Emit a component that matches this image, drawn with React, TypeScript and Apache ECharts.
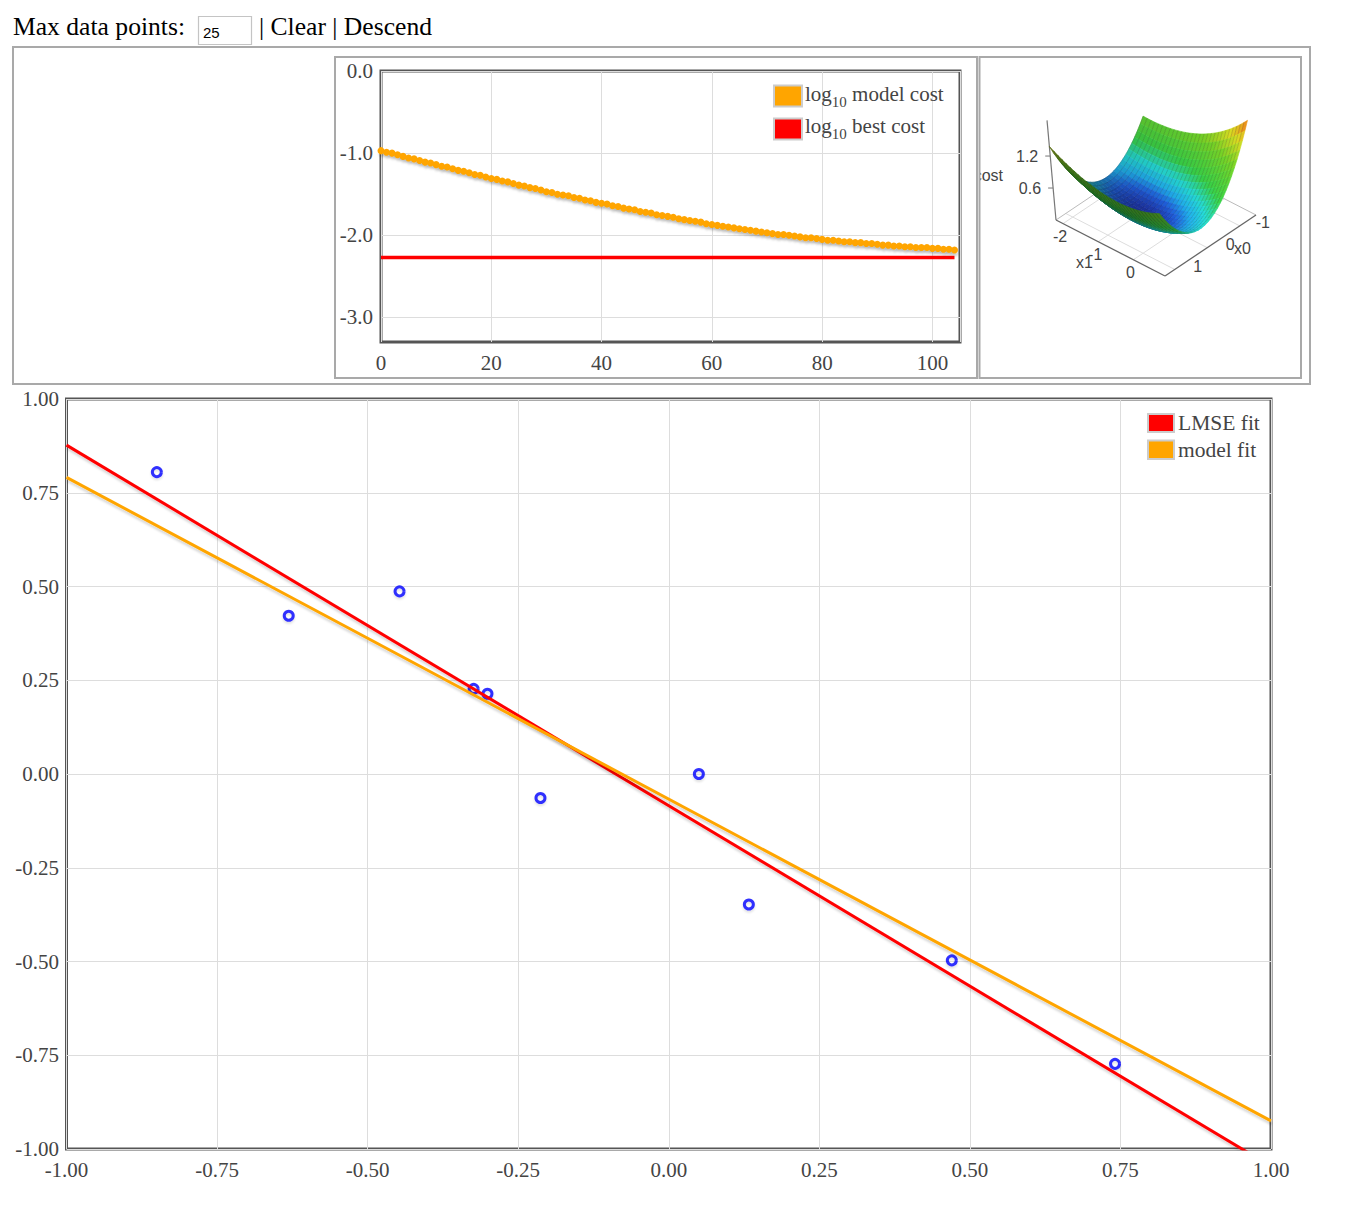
import React, { useEffect, useRef } from "react";
import * as echarts from "echarts";

const SERIF = "'Liberation Serif', 'Times New Roman', Times, serif";
const SANS = "'Liberation Sans', Arial, Helvetica, sans-serif";

// ---------------- header ----------------
const headerLabel = "Max data points:";
const maxPointsValue = "25";
const headerLinks = "| Clear | Descend";

// ---------------- cost history (top chart) ----------------
const modelCostLog10 = [
  -0.97, -0.99, -1.0, -1.02, -1.04, -1.06, -1.07, -1.09, -1.11, -1.12,
  -1.14, -1.16, -1.17, -1.19, -1.21, -1.22, -1.24, -1.26, -1.27, -1.29,
  -1.31, -1.32, -1.34, -1.35, -1.37, -1.39, -1.4, -1.42, -1.43, -1.45,
  -1.47, -1.48, -1.5, -1.51, -1.52, -1.54, -1.55, -1.57, -1.58, -1.6,
  -1.61, -1.62, -1.64, -1.65, -1.67, -1.68, -1.69, -1.71, -1.72, -1.73,
  -1.75, -1.76, -1.77, -1.78, -1.8, -1.81, -1.82, -1.83, -1.84, -1.86,
  -1.87, -1.88, -1.89, -1.9, -1.91, -1.92, -1.93, -1.94, -1.95, -1.96,
  -1.97, -1.98, -1.99, -1.99, -2.0, -2.01, -2.02, -2.03, -2.03, -2.04,
  -2.05, -2.06, -2.06, -2.07, -2.08, -2.08, -2.09, -2.09, -2.1, -2.1,
  -2.11, -2.12, -2.12, -2.13, -2.13, -2.14, -2.14, -2.15, -2.15, -2.15,
  -2.16, -2.16, -2.17, -2.17, -2.18,
];
const bestCostIterations = [0, 104];
const bestCostLog10 = [-2.27, -2.27];
const costYTicks = [-3, -2, -1, 0];
const costLegend = ["model cost", "best cost"];

// ---------------- data points and fits (main chart) ----------------
const pointsX = [-0.85, -0.631, -0.447, -0.324, -0.301, -0.213, 0.05, 0.133, 0.47, 0.741];
const pointsY = [0.805, 0.422, 0.487, 0.227, 0.214, -0.064, 0.0, -0.348, -0.497, -0.773];
const modelIntercept = -0.067;
const modelSlope = -0.858;
const fitXExtent = [-1, 1];
const fitLegend = ["LMSE fit", "model fit"];

// ---------------- cost surface (3D panel) ----------------
const surfX0Range = [-1.5, 1.3];
const surfX1Range = [-2.2, 0.9];
const surfX0Ticks = [-1, 0, 1];
const surfX1Ticks = [-2, -1, 0];
const surfCostTicks = [0.6, 1.2];
const SURF_N = 28;

// view of the 3D panel (panel-local units)
const VIEW = { origin: [77, 164], eu: [109, 56], ev: [91, -61], ez: [-4.8, -53.3], persp: 0.15 };

const ORANGE = "#FFA500";
const RED = "#FF0000";
const lineShadow = {
  shadowColor: "rgba(0,0,0,0.16)",
  shadowBlur: 2,
  shadowOffsetX: 1,
  shadowOffsetY: 3,
};

function leastSquares(xs: number[], ys: number[]) {
  const n = xs.length;
  let mx = 0, my = 0;
  for (let i = 0; i < n; i++) { mx += xs[i]; my += ys[i]; }
  mx /= n; my /= n;
  let sxy = 0, sxx = 0;
  for (let i = 0; i < n; i++) {
    sxy += (xs[i] - mx) * (ys[i] - my);
    sxx += (xs[i] - mx) * (xs[i] - mx);
  }
  const slope = sxy / sxx;
  return { intercept: my - slope * mx, slope };
}

function halfMse(x0: number, x1: number) {
  let s = 0;
  for (let i = 0; i < pointsX.length; i++) {
    const r = x0 + x1 * pointsX[i] - pointsY[i];
    s += r * r;
  }
  return (0.5 * s) / pointsX.length;
}

const colorStops: [number, number[]][] = [
  [0, [28, 50, 160]],
  [0.05, [30, 90, 210]],
  [0.11, [30, 165, 225]],
  [0.2, [35, 210, 205]],
  [0.33, [55, 205, 70]],
  [0.6, [120, 215, 40]],
  [0.8, [225, 228, 35]],
  [0.93, [245, 160, 30]],
  [1, [235, 80, 25]],
];
function colorAt(t: number) {
  t = Math.max(0, Math.min(1, t));
  for (let k = 1; k < colorStops.length; k++) {
    if (t <= colorStops[k][0]) {
      const [t0, c0] = colorStops[k - 1];
      const [t1, c1] = colorStops[k];
      const f = (t - t0) / (t1 - t0);
      return [0, 1, 2].map((m) => c0[m] + (c1[m] - c0[m]) * f);
    }
  }
  return colorStops[colorStops.length - 1][1];
}

function project(u: number, v: number, c: number) {
  const s = 1 + VIEW.persp * (u - v);
  return [
    VIEW.origin[0] + VIEW.eu[0] * u + VIEW.ev[0] * v + VIEW.ez[0] * c * s,
    VIEW.origin[1] + VIEW.eu[1] * u + VIEW.ev[1] * v + VIEW.ez[1] * c * s,
  ];
}

function buildOption() {
  const lmse = leastSquares(pointsX, pointsY);

  // surface grid
  const x0Span = surfX0Range[1] - surfX0Range[0];
  const x1Span = surfX1Range[1] - surfX1Range[0];
  const x1At = (u: number) => surfX1Range[0] + u * x1Span;
  const x0At = (v: number) => surfX0Range[1] - v * x0Span;
  const G: number[][] = [];
  let cMin = Infinity, cMax = -Infinity;
  for (let i = 0; i <= SURF_N; i++) {
    const row: number[] = [];
    for (let j = 0; j <= SURF_N; j++) {
      const c = halfMse(x0At(j / SURF_N), x1At(i / SURF_N));
      row.push(c);
      cMin = Math.min(cMin, c);
      cMax = Math.max(cMax, c);
    }
    G.push(row);
  }
  const quads: number[][] = [];
  for (let i = 0; i < SURF_N; i++)
    for (let j = 0; j < SURF_N; j++)
      quads.push([i, j, VIEW.eu[1] * (i + 0.5) / SURF_N + VIEW.ev[1] * (j + 0.5) / SURF_N]);
  quads.sort((a, b) => a[2] - b[2]);

  const light = [-0.6, -0.6, 1];
  const ll = Math.hypot(light[0], light[1], light[2]);

  const axisFont = { color: "#444", fontFamily: SERIF, fontSize: 21 };

  const legendText = (sub: string, rest: string, x: number, y: number) => ({
    type: "text",
    z: 20,
    style: {
      text: `{a|${sub}}{s|10}{a| ${rest}}`,
      x,
      y,
      align: "left",
      verticalAlign: "middle",
      rich: {
        a: { fontSize: 21, fontFamily: SERIF, fill: "#444", lineHeight: 30, verticalAlign: "middle" },
        s: { fontSize: 15, fontFamily: SERIF, fill: "#444", lineHeight: 15, verticalAlign: "bottom" },
      },
    },
  });

  const swatch = (x: number, y: number, w: number, h: number, fill: string) => ({
    type: "rect",
    z: 20,
    shape: { x, y, width: w, height: h },
    style: { fill, stroke: "#ccc", lineWidth: 2 },
  });

  const plainText = (text: string, x: number, y: number, size: number, family: string, fill = "#000") => ({
    type: "text",
    z: 20,
    style: { text, x, y, fill, fontSize: size, fontFamily: family, align: "left", verticalAlign: "middle" },
  });

  const box = (x: number, y: number, w: number, h: number) => ({
    type: "rect",
    z: 60,
    shape: { x, y, width: w, height: h },
    style: { fill: "none", stroke: "#a9a9a9", lineWidth: 2 },
  });

  return {
    animation: false,
    textStyle: { fontFamily: SERIF },
    grid: [
      { left: 381, top: 71, width: 579, height: 271, show: true, borderColor: "#555", borderWidth: 3, backgroundColor: "transparent", outerBoundsMode: "none" },
      { left: 66.5, top: 399, width: 1204.5, height: 750, show: true, borderColor: "#555", borderWidth: 3, backgroundColor: "transparent", outerBoundsMode: "none" },
      { left: 979, top: 56, width: 322, height: 322, show: false, outerBoundsMode: "none" },
    ],
    xAxis: [
      {
        gridIndex: 0, type: "value", min: 0, max: 105, interval: 20,
        axisLine: { show: false }, axisTick: { show: false },
        axisLabel: { ...axisFont, margin: 10, showMaxLabel: false, showMinLabel: true },
        splitLine: { show: true, lineStyle: { color: "#ddd", width: 1 } },
      },
      {
        gridIndex: 1, type: "value", min: -1, max: 1, interval: 0.25,
        axisLine: { show: false }, axisTick: { show: false },
        axisLabel: { ...axisFont, margin: 10, formatter: (v: number) => v.toFixed(2), showMaxLabel: true, showMinLabel: true },
        splitLine: { show: true, lineStyle: { color: "#ddd", width: 1 } },
      },
      { gridIndex: 2, type: "value", min: 0, max: 322, show: false },
    ],
    yAxis: [
      {
        gridIndex: 0, type: "value", min: -3.3, max: 0,
        axisLine: { show: false },
        axisTick: { show: false, customValues: costYTicks },
        axisLabel: { ...axisFont, margin: 8, customValues: costYTicks, formatter: (v: number) => v.toFixed(1) },
        splitLine: { show: true, lineStyle: { color: "#ddd", width: 1 } },
      },
      {
        gridIndex: 1, type: "value", min: -1, max: 1, interval: 0.25,
        axisLine: { show: false }, axisTick: { show: false },
        axisLabel: { ...axisFont, margin: 7.5, formatter: (v: number) => v.toFixed(2), showMaxLabel: true, showMinLabel: true },
        splitLine: { show: true, lineStyle: { color: "#ddd", width: 1 } },
      },
      { gridIndex: 2, type: "value", min: 0, max: 322, inverse: true, show: false },
    ],
    series: [
      // ---- top chart
      {
        type: "line", xAxisIndex: 0, yAxisIndex: 0, silent: true,
        data: bestCostIterations.map((x, k) => [x, bestCostLog10[k]]),
        showSymbol: false,
        lineStyle: { color: RED, width: 3.5 },
      },
      {
        type: "line", xAxisIndex: 0, yAxisIndex: 0, silent: true,
        data: modelCostLog10.map((v, k) => [k, v]),
        symbol: "circle", symbolSize: 7, showSymbol: true,
        itemStyle: { color: ORANGE, shadowColor: "rgba(0,0,0,0.14)", shadowBlur: 2, shadowOffsetX: 1, shadowOffsetY: 3 },
        lineStyle: { color: ORANGE, width: 3, ...lineShadow },
      },
      // ---- main chart
      {
        type: "line", xAxisIndex: 1, yAxisIndex: 1, silent: true, clip: true,
        data: fitXExtent.map((x) => [x, lmse.intercept + lmse.slope * x]),
        showSymbol: false,
        lineStyle: { color: RED, width: 3, ...lineShadow },
      },
      {
        type: "line", xAxisIndex: 1, yAxisIndex: 1, silent: true, clip: true,
        data: fitXExtent.map((x) => [x, modelIntercept + modelSlope * x]),
        showSymbol: false,
        lineStyle: { color: ORANGE, width: 3, ...lineShadow },
      },
      {
        type: "scatter", xAxisIndex: 1, yAxisIndex: 1, silent: true,
        data: pointsX.map((x, k) => [x, pointsY[k]]),
        symbol: "circle", symbolSize: 9,
        itemStyle: { color: "rgba(255,255,255,0)", borderColor: "#0000FF", borderWidth: 3, shadowColor: "rgba(0,0,0,0.15)", shadowBlur: 2, shadowOffsetY: 2 },
      },
      // ---- 3D floor / axes
      {
        type: "custom", xAxisIndex: 2, yAxisIndex: 2, silent: true, clip: false, z: 2,
        data: [[0, 0]],
        renderItem: (params: any, api: any) => {
          const P = (u: number, v: number, c: number) => api.coord(project(u, v, c));
          const children: any[] = [];
          const line = (a: number[], b: number[], stroke: string, w: number) =>
            children.push({ type: "line", shape: { x1: a[0], y1: a[1], x2: b[0], y2: b[1] }, style: { stroke, lineWidth: w } });
          const label = (t: string, p: number[], dx: number, dy: number, align: string) =>
            children.push({
              type: "text",
              style: { text: t, x: p[0] + dx, y: p[1] + dy, fill: "#444", fontSize: 16, fontFamily: SANS, align, textAlign: align, verticalAlign: "middle", textVerticalAlign: "middle" },
            });
          surfX1Ticks.forEach((t) => {
            const u = (t - surfX1Range[0]) / x1Span;
            line(P(u, 0, 0), P(u, 1, 0), "#ddd", 1);
          });
          surfX0Ticks.forEach((t) => {
            const v = (surfX0Range[1] - t) / x0Span;
            line(P(0, v, 0), P(1, v, 0), "#ddd", 1);
          });
          line(P(0, 0, 0), P(0, 1, 0), "#bbb", 1);
          line(P(0, 1, 0), P(1, 1, 0), "#bbb", 1);
          line(P(0, 0, 0), P(1, 0, 0), "#666", 1.3);
          line(P(1, 0, 0), P(1, 1, 0), "#666", 1.3);
          line(P(0, 0, 0), P(0, 0, 1.87), "#777", 1.2);
          surfCostTicks.forEach((c) => {
            const p = P(0, 0, c);
            line([p[0] - 5, p[1]], p, "#777", 1);
            label(c.toFixed(1), p, -12, 0, "right");
          });
          surfX1Ticks.forEach((t) => {
            const u = (t - surfX1Range[0]) / x1Span;
            label(String(t), P(u, 0, 0), -3, 13, "center");
          });
          surfX0Ticks.forEach((t) => {
            const v = (surfX0Range[1] - t) / x0Span;
            label(String(t), P(1, v, 0), 23, -3, "center");
          });
          label("x1", P(0.5, 0, 0), -26, 14, "center");
          label("x0", P(1, 0.5, 0), 32, 3, "center");
          label("cost", P(0, 0, 0.9), -78, 3, "left");
          return { type: "group", children };
        },
      },
      // ---- 3D surface
      {
        type: "custom", xAxisIndex: 2, yAxisIndex: 2, silent: true, clip: false, z: 3,
        data: quads.map((q) => [q[0], q[1]]),
        renderItem: (params: any, api: any) => {
          const i = api.value(0);
          const j = api.value(1);
          const c00 = G[i][j], c10 = G[i + 1][j], c11 = G[i + 1][j + 1], c01 = G[i][j + 1];
          const P = (ii: number, jj: number, c: number) => api.coord(project(ii / SURF_N, jj / SURF_N, c));
          const pts = [P(i, j, c00), P(i + 1, j, c10), P(i + 1, j + 1, c11), P(i, j + 1, c01)];
          const cAvg = (c00 + c10 + c11 + c01) / 4;
          const dhdu = (((c10 + c11) - (c00 + c01)) / 2) * SURF_N / cMax;
          const dhdv = (((c01 + c11) - (c00 + c10)) / 2) * SURF_N / cMax;
          const nl = Math.hypot(dhdu, dhdv, 1);
          const dot = (-dhdu * light[0] - dhdv * light[1] + light[2]) / (nl * ll);
          const shade = 0.55 + 0.5 * Math.max(0, dot);
          const rgb = colorAt((cAvg - cMin) / (cMax - cMin)).map((x) => Math.round(Math.min(255, x * shade)));
          const fill = `rgb(${rgb[0]},${rgb[1]},${rgb[2]})`;
          return {
            type: "group",
            children: [
              { type: "polygon", shape: { points: pts }, style: { fill, stroke: fill, lineWidth: 0.6 } },
              { type: "line", shape: { x1: pts[0][0], y1: pts[0][1], x2: pts[3][0], y2: pts[3][1] }, style: { stroke: "rgba(0,0,0,0.2)", lineWidth: 0.8 } },
            ],
          };
        },
      },
    ],
    graphic: [
      // header
      plainText(headerLabel, 13, 26.4, 25.6, SERIF),
      { type: "rect", z: 20, shape: { x: 198.5, y: 16.5, width: 53, height: 28 }, style: { fill: "#fff", stroke: "#c4c4c4", lineWidth: 1.2 } },
      plainText(maxPointsValue, 203, 32, 15, SANS),
      plainText(headerLinks, 259, 26.4, 25.6, SERIF),
      // top chart legend
      swatch(774, 85.5, 28, 21, ORANGE),
      legendText("log", costLegend[0], 805, 94),
      swatch(774, 118.5, 28, 21, RED),
      legendText("log", costLegend[1], 805, 126),
      // main legend
      swatch(1148, 414, 26, 18, RED),
      plainText(fitLegend[0], 1178, 423, 21.5, SERIF, "#444"),
      swatch(1148, 440.5, 26, 18.5, ORANGE),
      plainText(fitLegend[1], 1178, 449.8, 21.5, SERIF, "#444"),
      // cover for the clipped part of the 3D axis title
      { type: "rect", z: 50, shape: { x: 963, y: 160, width: 16.5, height: 30 }, style: { fill: "#fff" } },
      // panel boxes
      box(13, 47, 1297, 337),
      box(335, 57, 642, 321),
      box(979.5, 57, 321.5, 321),
    ],
  };
}

export default function App() {
  const ref = useRef<HTMLDivElement>(null);
  useEffect(() => {
    if (!ref.current) return;
    const chart = echarts.init(ref.current, null, { renderer: "svg" });
    chart.setOption(buildOption() as any);
    return () => chart.dispose();
  }, []);
  return (
    <div
      ref={ref}
      style={{ position: "absolute", left: 0, top: 0, width: 1352, height: 1208, background: "#fff" }}
    />
  );
}
